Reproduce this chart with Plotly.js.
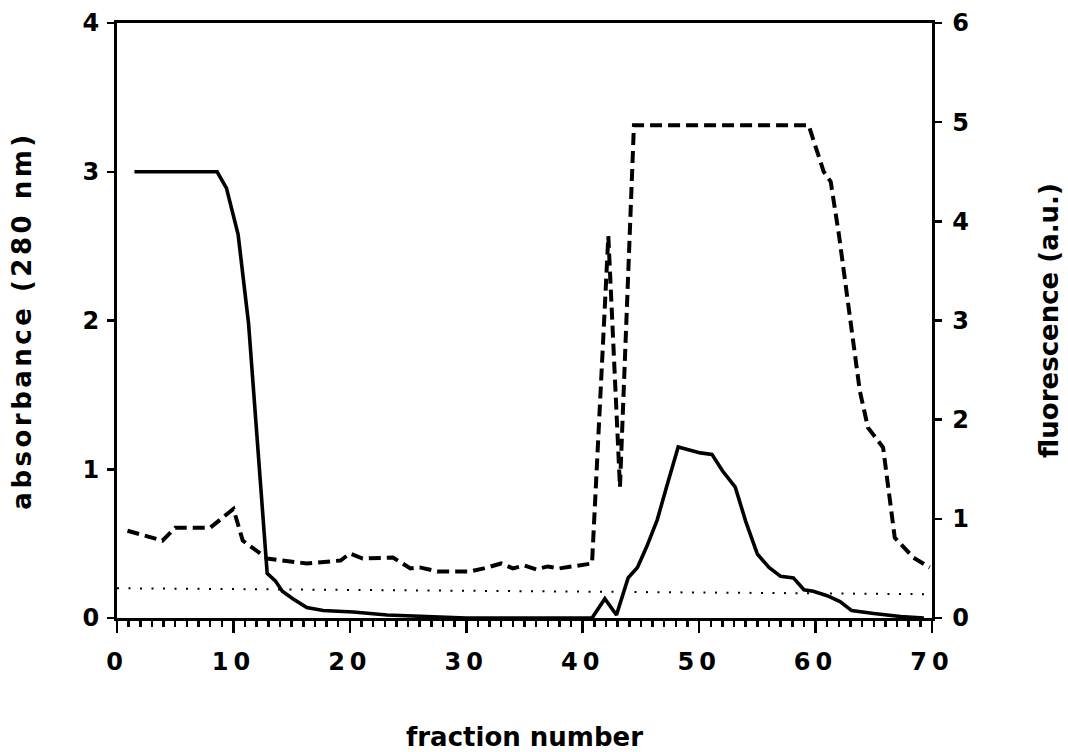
<!DOCTYPE html>
<html>
<head>
<meta charset="utf-8">
<script src="https://cdn.plot.ly/plotly-3.0.1.min.js"></script>
<style>
  html, body { margin: 0; padding: 0; background: #fff; }
  #chart { width: 1068px; height: 752px; }
  #chart .xtick text { letter-spacing: 5px; }
  #chart text.ytitle { letter-spacing: 3.5px; }
</style>
</head>
<body>
<div id="chart"></div>
<script>
// absorbance at 280 nm (solid line, left axis)
const absFraction = [1.5, 8.6, 9.4, 10.4, 11.3, 12.9, 13.6, 14.2, 15.1, 16.3, 17.7, 20.3, 23.2, 26, 30, 35, 40.8, 41.9, 42.9, 43.9, 44.7, 45.5, 46.4, 47.2, 48.2, 50.1, 51.1, 52, 53.1, 54, 55, 56, 57, 58.1, 59, 59.8, 61, 62.1, 63.1, 65, 67.3, 69.3];
const absorbance = [3.0, 3.0, 2.89, 2.58, 1.98, 0.30, 0.25, 0.18, 0.13, 0.07, 0.05, 0.04, 0.02, 0.01, 0.0, 0.0, 0.0, 0.13, 0.02, 0.27, 0.34, 0.48, 0.66, 0.88, 1.15, 1.11, 1.10, 0.99, 0.88, 0.65, 0.43, 0.34, 0.28, 0.27, 0.19, 0.18, 0.15, 0.11, 0.05, 0.03, 0.01, 0.0];

// fluorescence (dashed line, right axis)
const fluFraction = [0.9, 3.9, 5.0, 8.0, 10.0, 10.8, 12.9, 16.3, 19.2, 20.0, 21.1, 23.7, 25.2, 26.0, 27.5, 30.3, 31.5, 33, 34, 35, 36, 37, 38, 40.8, 42.2, 43.2, 44.4, 59.4, 60.7, 61.3, 62.0, 63.0, 63.8, 64.5, 65.8, 66.8, 68.4, 69.8];
const fluorescence = [0.88, 0.78, 0.91, 0.91, 1.10, 0.78, 0.60, 0.55, 0.58, 0.65, 0.60, 0.61, 0.50, 0.51, 0.47, 0.47, 0.50, 0.55, 0.50, 0.53, 0.49, 0.52, 0.50, 0.55, 3.85, 1.32, 4.97, 4.97, 4.5, 4.4, 3.87, 3.03, 2.29, 1.92, 1.72, 0.81, 0.61, 0.51];

// dotted baseline (left axis)
const baseFraction = [0, 70];
const baseLevel = [0.20, 0.16];

// tick values
const xTicks = [0, 10, 20, 30, 40, 50, 60, 70];
const yLeftTicks = [0, 1, 2, 3, 4];
const yRightTicks = [0, 1, 2, 3, 4, 5, 6];

const FONT = 'DejaVu Sans, Liberation Sans, Arial, sans-serif';
const tickFont = {family: FONT, size: 24, color: '#000', weight: 'bold'};
const titleFont = {family: FONT, size: 26, color: '#000', weight: 'bold'};

const traces = [
  {x: baseFraction, y: baseLevel, mode: 'lines', yaxis: 'y',
   line: {color: '#000', width: 2, dash: '2px,9.5px'}, hoverinfo: 'skip'},
  {x: absFraction, y: absorbance, mode: 'lines', yaxis: 'y',
   line: {color: '#000', width: 3.6}},
  {x: fluFraction, y: fluorescence, mode: 'lines', yaxis: 'y2',
   line: {color: '#000', width: 4, dash: '12px,6px'}}
];

const layout = {
  width: 1068, height: 752,
  margin: {l: 117, r: 136, t: 23, b: 134},
  paper_bgcolor: '#fff', plot_bgcolor: '#fff',
  showlegend: false,
  xaxis: {
    range: [0, 70], tickvals: xTicks, ticktext: xTicks.map(String),
    showgrid: false, zeroline: false,
    showline: true, linewidth: 3, linecolor: '#000', mirror: true,
    ticks: 'outside', ticklen: 12, tickwidth: 2.5, tickcolor: '#000',
    minor: {dtick: 1, tick0: 0, ticks: 'outside', ticklen: 6, tickwidth: 2.5, tickcolor: '#000', showgrid: false},
    tickfont: tickFont, ticklabelstandoff: 8,
    title: {text: 'fraction number', font: titleFont, standoff: 55}
  },
  yaxis: {
    range: [0, 4], tickvals: yLeftTicks, ticktext: yLeftTicks.map(String),
    showgrid: false, zeroline: false,
    showline: true, linewidth: 3, linecolor: '#000',
    ticks: 'outside', ticklen: 7, tickwidth: 2.5, tickcolor: '#000',
    tickfont: tickFont, ticklabelstandoff: 3,
    title: {text: 'absorbance (280 nm)', font: titleFont, standoff: 44}
  },
  yaxis2: {
    range: [0, 6], tickvals: yRightTicks, ticktext: yRightTicks.map(String),
    overlaying: 'y', side: 'right',
    showgrid: false, zeroline: false,
    showline: true, linewidth: 2.5, linecolor: '#000',
    ticks: 'outside', ticklen: 7, tickwidth: 2.5, tickcolor: '#000',
    tickfont: tickFont, ticklabelstandoff: 6,
    title: {text: 'fluorescence (a.u.)', font: titleFont, standoff: 72}
  }
};

Plotly.newPlot('chart', traces, layout, {staticPlot: true, displayModeBar: false});
</script>
</body>
</html>
